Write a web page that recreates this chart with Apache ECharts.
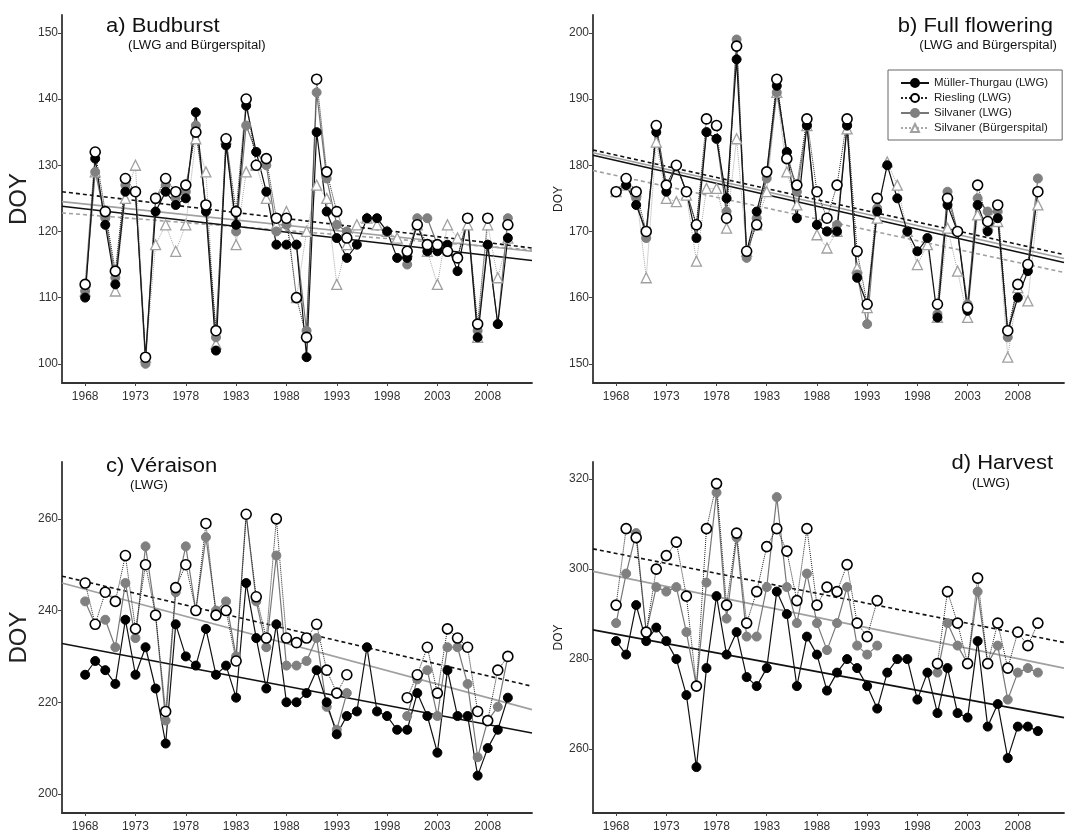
<!DOCTYPE html>
<html>
<head>
<meta charset="utf-8">
<script src="https://cdn.jsdelivr.net/npm/echarts@6/dist/echarts.min.js"></script>
<style>
  html, body { margin: 0; padding: 0; background: #fff; }
  #chart { width: 1065px; height: 832px; }
</style>
</head>
<body>
<div id="chart"></div>
<script>
// years of observation
const years = [1968, 1969, 1970, 1971, 1972, 1973, 1974, 1975, 1976, 1977,
  1978, 1979, 1980, 1981, 1982, 1983, 1984, 1985, 1986, 1987,
  1988, 1989, 1990, 1991, 1992, 1993, 1994, 1995, 1996, 1997,
  1998, 1999, 2000, 2001, 2002, 2003, 2004, 2005, 2006, 2007,
  2008, 2009, 2010]
const yearTicks = [1968, 1973, 1978, 1983, 1988, 1993, 1998, 2003, 2008]

// a) Budburst
const budMT   = [110, 131, 121, 112, 126, 126, 101, 123, 126, 124, 125, 138, 123, 102, 133, 121, 139, 132, 126, 118, 118, 118, 101, 135, 123, 119, 116, 118, 122, 122, 120, 116, 116, 121, 117, 117, 118, 114, 122, 104, 118, 106, 119]
const budRies = [112, 132, 123, 114, 128, 126, 101, 125, 128, 126, 127, 135, 124, 105, 134, 123, 140, 130, 131, 122, 122, 110, 104, 143, 129, 123, 119, null, null, null, null, null, 117, 121, 118, 118, 117, 116, 122, 106, 122, null, 121]
const budSilv = [111, 129, 122, 113, 127, 126, 100, 125, 127, 125, 126, 136, 124, 104, 134, 120, 136, 132, 130, 120, 121, 118, 105, 141, 128, 121, 120, null, null, null, null, null, 115, 122, 122, 118, 117, 116, 122, 105, 118, 106, 122]
const budBurg = [111, 129, 123, 111, 125, 130, 101, 118, 121, 117, 121, 134, 129, 103, 134, 118, 129, 130, 125, 121, 123, 110, 120, 127, 125, 112, 118, 121, 122, 121, 120, 119, 117, 121, 117, 112, 121, 119, 121, 104, 121, 113, 119]
const budTrendX    = [1965.7, 2012.4]
const budTrendMT   = [123.8, 115.6]
const budTrendRies = [126.0, 117.5]
const budTrendSilv = [124.5, 117.0]
const budTrendBurg = [122.8, 117.2]

// b) Full flowering
const flowMT   = [176, 177, 174, 170, 185, 176, 180, 176, 169, 185, 184, 175, 196, 167, 173, 179, 192, 182, 172, 186, 171, 170, 170, 186, 163, 159, 173, 180, 175, 170, 167, 169, 157, 174, 170, 158, 174, 170, 172, 155, 160, 164, 176]
const flowRies = [176, 178, 176, 170, 186, 177, 180, 176, 171, 187, 186, 172, 198, 167, 171, 179, 193, 181, 177, 187, 176, 172, 177, 187, 167, 159, 175, null, null, null, null, null, 159, 175, 170, 158.5, 177, 171.5, 174, 155, 162, 165, 176]
const flowSilv = [176, 177, 175, 169, 186, 177, 180, 176, 171, 185, 184, 173, 199, 166, 172, 178, 191, 182, 176, 186, 171, 170, 171, 186, 163.5, 156, 173.5, null, null, null, null, null, 157.5, 176, 170, 159, 175, 173, 173, 154, 162, 165, 178]
const flowBurg = [176, 177, 176, 163, 183.5, 175, 174.5, 175.5, 165.5, 176.5, 176.5, 170.5, 184, 167, 171, 176, 191, 179, 174, 186, 169.5, 167.5, 170, 185.5, 164.5, 158.5, 172, 180.5, 177, 170, 165, 168, 157, 170.5, 164, 157, 172.5, 171, 171.5, 151, 161.5, 159.5, 174]
const flowTrendX    = [1965.7, 2012.6]
const flowTrendMT   = [181.5, 165.3]
const flowTrendRies = [182.3, 166.5]
const flowTrendSilv = [181.9, 165.9]
const flowTrendBurg = [179.2, 163.8]

// c) Veraison
const verMT   = [226, 229, 227, 224, 238, 226, 232, 223, 211, 237, 230, 228, 236, 226, 228, 221, 246, 234, 223, 237, 220, 220, 222, 227, 220, 213, 217, 218, 232, 218, 217, 214, 214, 222, 217, 209, 227, 217, 217, 204, 210, 214, 221]
const verRies = [246, 237, 244, 242, 252, 236, 250, 239, 218, 245, 250, 240, 259, 239, 240, 229, 261, 243, 234, 260, 234, 233, 234, 237, 227, 222, 226, null, null, null, null, null, 221, 226, 232, 222, 236, 234, 232, 218, 216, 227, 230]
const verSilv = [242, 237, 238, 232, 246, 234, 254, 239, 216, 244, 254, 240, 256, 240, 242, 230, 261, 242, 232, 252, 228, 228, 229, 234, 219, 214, 222, null, null, null, null, null, 217, 225, 227, 217, 232, 232, 224, 208, 216, 219, 230]
const verTrendX    = [1965.7, 2012.4]
const verTrendMT   = [232.8, 213.3]
const verTrendRies = [247.5, 223.5]
const verTrendSilv = [246.0, 218.4]

// d) Harvest
const harvMT   = [284, 281, 292, 284, 287, 284, 280, 272, 256, 278, 294, 281, 286, 276, 274, 278, 295, 290, 274, 285, 281, 273, 277, 280, 278, 274, 269, 277, 280, 280, 271, 277, 268, 278, 268, 267, 284, 265, 270, 258, 265, 265, 264]
const harvRies = [292, 309, 307, 286, 300, 303, 306, 294, 274, 309, 319, 292, 308, 288, 295, 305, 309, 304, 293, 309, 292, 296, 295, 301, 288, 285, 293, null, null, null, null, null, 279, 295, 288, 279, 298, 279, 288, 278, 286, 283, 288]
const harvSilv = [288, 299, 308, 286, 296, 295, 296, 286, 274, 297, 317, 289, 307, 285, 285, 296, 316, 296, 288, 299, 288, 282, 288, 296, 283, 281, 283, null, null, null, null, null, 277, 288, 283, 279, 295, 279, 283, 271, 277, 278, 277]
const harvTrendX    = [1965.7, 2012.6]
const harvTrendMT   = [286.5, 267.0]
const harvTrendRies = [304.5, 283.7]
const harvTrendSilv = [299.5, 278.0]

const FONT = '"Liberation Sans", Arial, sans-serif'
const NAMES = ['Müller-Thurgau (LWG)', 'Riesling (LWG)', 'Silvaner (LWG)', 'Silvaner (Bürgerspital)']

const styles = {
  MT:   { symbol: 'circle', symbolSize: 9, itemStyle: { color: '#000', borderColor: '#000', borderWidth: 1 }, lineStyle: { color: '#111', width: 1.2, type: 'solid' } },
  Ries: { symbol: 'circle', symbolSize: 10, itemStyle: { color: '#fff', borderColor: '#000', borderWidth: 1.6 }, lineStyle: { color: '#222', width: 1, type: 'dotted' } },
  Silv: { symbol: 'circle', symbolSize: 9, itemStyle: { color: '#808080', borderColor: '#808080', borderWidth: 1 }, lineStyle: { color: '#777', width: 1.2, type: 'solid' } },
  Burg: { symbol: 'triangle', symbolSize: 10, itemStyle: { color: '#fff', borderColor: '#a0a0a0', borderWidth: 1.3 }, lineStyle: { color: '#a8a8a8', width: 1, type: 'dotted' } }
}
const trendStyles = {
  MT:   { color: '#111', width: 1.6, type: 'solid' },
  Ries: { color: '#111', width: 1.6, type: [4, 3] },
  Silv: { color: '#a0a0a0', width: 1.6, type: 'solid' },
  Burg: { color: '#a0a0a0', width: 1.6, type: [4, 3] }
}

const pairs = (vals) => years.map((y, i) => [y, vals[i] == null ? '-' : vals[i]])

const pointSeries = (idx, key, name, vals) => Object.assign({
  type: 'line', name: name, xAxisIndex: idx, yAxisIndex: idx,
  data: pairs(vals), showSymbol: true, connectNulls: false, z: 3
}, JSON.parse(JSON.stringify(styles[key])))

const trendSeries = (idx, key, xs, vs) => ({
  type: 'line', name: 'trend ' + idx + key, xAxisIndex: idx, yAxisIndex: idx,
  data: [[xs[0], vs[0]], [xs[1], vs[1]]], symbol: 'none', silent: true, z: 2,
  lineStyle: trendStyles[key]
})

const grids = [
  { left: 62, top: 15, width: 470, height: 368 },
  { left: 593, top: 15, width: 471, height: 368 },
  { left: 62, top: 462, width: 470, height: 351 },
  { left: 593, top: 462, width: 471, height: 351 }
]

const xAxisFor = (i, range) => ({
  type: 'value', gridIndex: i, min: range[0], max: range[1],
  axisLine: { show: true, onZero: false, lineStyle: { color: '#333', width: 1.8 } },
  axisTick: { show: true, customValues: yearTicks, length: 3, lineStyle: { color: '#444' } },
  axisLabel: { customValues: yearTicks, formatter: v => String(v), color: '#333', fontSize: 12, margin: 8, fontFamily: FONT },
  splitLine: { show: false }
})

const yAxisFor = (i, min, max, ticks, big) => ({
  type: 'value', gridIndex: i, min: min, max: max,
  name: 'DOY', nameLocation: 'middle', nameRotate: 90,
  nameGap: big ? 31 : 28,
  nameTextStyle: { color: '#222', fontSize: big ? 24 : 12, fontFamily: FONT },
  axisLine: { show: true, onZero: false, lineStyle: { color: '#333', width: 1.8 } },
  axisTick: { show: true, customValues: ticks, length: 4, lineStyle: { color: '#444' } },
  axisLabel: { customValues: ticks, formatter: v => String(v), color: '#333', fontSize: 12, margin: 4, fontFamily: FONT },
  splitLine: { show: false }
})

const titleText = (x, y, text, size, align) => ({
  type: 'text', x: x, y: y, scaleX: 1.1, silent: true,
  style: { text: text, font: size + 'px ' + FONT, fill: '#111', align: align, textAlign: align, verticalAlign: 'middle', textVerticalAlign: 'middle' }
})

const chart = echarts.init(document.getElementById('chart'))

const option = {
  animation: false,
  backgroundColor: '#fff',
  textStyle: { fontFamily: FONT },
  grid: grids.map(g => Object.assign({ outerBoundsMode: 'none', containLabel: false }, g)),
  xAxis: [
    xAxisFor(0, budTrendX), xAxisFor(1, flowTrendX),
    xAxisFor(2, verTrendX), xAxisFor(3, harvTrendX)
  ],
  yAxis: [
    yAxisFor(0, 97.1, 152.7, [100, 110, 120, 130, 140, 150], true),
    yAxisFor(1, 147.1, 202.7, [150, 160, 170, 180, 190, 200], false),
    yAxisFor(2, 195.85, 272.4, [200, 220, 240, 260], true),
    yAxisFor(3, 245.8, 323.8, [260, 280, 300, 320], false)
  ],
  legend: {
    data: NAMES, orient: 'vertical', left: 888, top: 70,
    itemWidth: 28, itemHeight: 10, itemGap: 3,
    padding: [7, 14, 6, 12],
    borderColor: '#666', borderWidth: 1, backgroundColor: '#fff',
    textStyle: { fontSize: 11.5, color: '#222', fontFamily: FONT },
    selectedMode: false
  },
  graphic: [
    titleText(106, 26, 'a) Budburst', 20, 'left'),
    titleText(128, 46, '(LWG and Bürgerspital)', 12, 'left'),
    titleText(1053, 26, 'b) Full flowering', 20, 'right'),
    titleText(1057, 46, '(LWG and Bürgerspital)', 12, 'right'),
    titleText(106, 466, 'c) Véraison', 20, 'left'),
    titleText(130, 486, '(LWG)', 12, 'left'),
    titleText(1053, 463, 'd) Harvest', 20, 'right'),
    titleText(1010, 484, '(LWG)', 12, 'right')
  ],
  series: [
    trendSeries(0, 'Burg', budTrendX, budTrendBurg),
    trendSeries(0, 'Silv', budTrendX, budTrendSilv),
    trendSeries(0, 'Ries', budTrendX, budTrendRies),
    trendSeries(0, 'MT', budTrendX, budTrendMT),
    pointSeries(0, 'Burg', NAMES[3], budBurg),
    pointSeries(0, 'Silv', NAMES[2], budSilv),
    pointSeries(0, 'MT', NAMES[0], budMT),
    pointSeries(0, 'Ries', NAMES[1], budRies),

    trendSeries(1, 'Burg', flowTrendX, flowTrendBurg),
    trendSeries(1, 'Silv', flowTrendX, flowTrendSilv),
    trendSeries(1, 'Ries', flowTrendX, flowTrendRies),
    trendSeries(1, 'MT', flowTrendX, flowTrendMT),
    pointSeries(1, 'Burg', NAMES[3], flowBurg),
    pointSeries(1, 'Silv', NAMES[2], flowSilv),
    pointSeries(1, 'MT', NAMES[0], flowMT),
    pointSeries(1, 'Ries', NAMES[1], flowRies),

    trendSeries(2, 'Silv', verTrendX, verTrendSilv),
    trendSeries(2, 'Ries', verTrendX, verTrendRies),
    trendSeries(2, 'MT', verTrendX, verTrendMT),
    pointSeries(2, 'Silv', NAMES[2], verSilv),
    pointSeries(2, 'MT', NAMES[0], verMT),
    pointSeries(2, 'Ries', NAMES[1], verRies),

    trendSeries(3, 'Silv', harvTrendX, harvTrendSilv),
    trendSeries(3, 'Ries', harvTrendX, harvTrendRies),
    trendSeries(3, 'MT', harvTrendX, harvTrendMT),
    pointSeries(3, 'Silv', NAMES[2], harvSilv),
    pointSeries(3, 'MT', NAMES[0], harvMT),
    pointSeries(3, 'Ries', NAMES[1], harvRies)
  ]
}

chart.setOption(option)
window.addEventListener('resize', () => chart.resize())
</script>
</body>
</html>
